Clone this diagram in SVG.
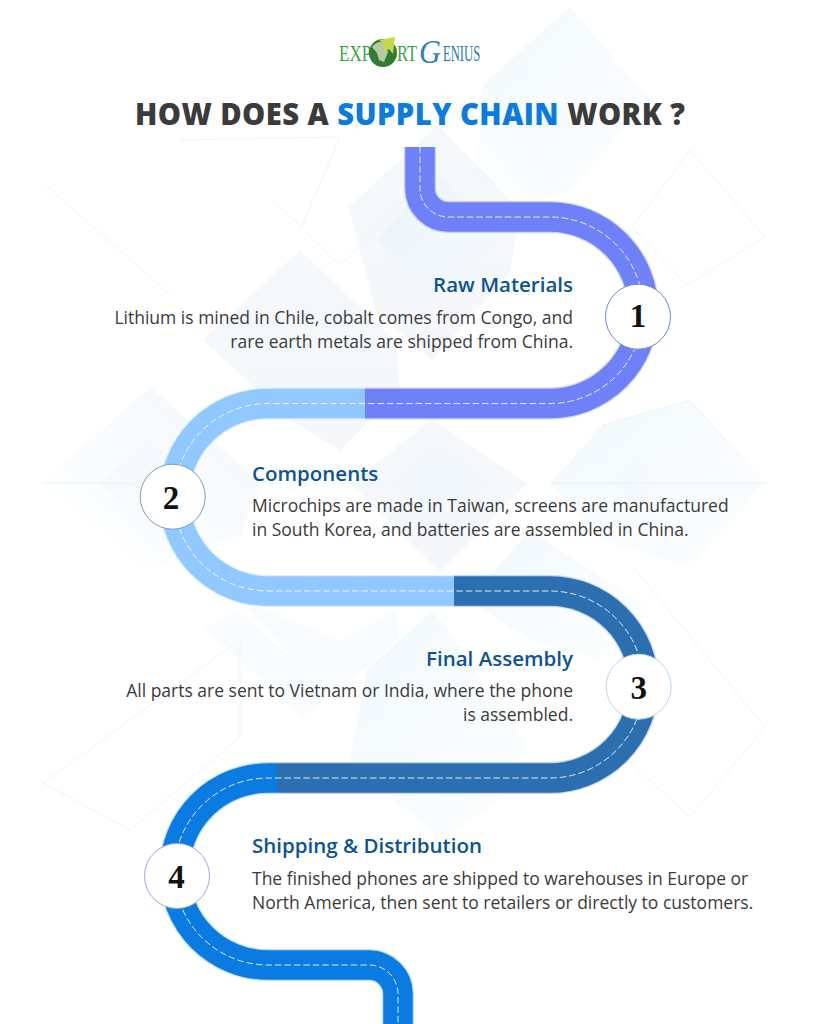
<svg xmlns="http://www.w3.org/2000/svg" width="819" height="1024" viewBox="0 0 819 1024">
<defs>
<linearGradient id="a" x1="0" y1="0" x2="0" y2="1"><stop offset="0" stop-color="#e6f1f8" stop-opacity=".45"/><stop offset="1" stop-color="#ebeef6" stop-opacity=".5"/></linearGradient>
<linearGradient id="b" x1="0" y1="0" x2="1" y2="1"><stop offset="0" stop-color="#e2f2fa" stop-opacity=".55"/><stop offset="1" stop-color="#f4fafd" stop-opacity=".25"/></linearGradient>
<linearGradient id="c" x1="1" y1="0" x2="0" y2="1"><stop offset="0" stop-color="#e5eff8" stop-opacity=".5"/><stop offset="1" stop-color="#f7fbfe" stop-opacity=".2"/></linearGradient>
</defs>
<style>
.a{fill:url(#a);stroke:none}
.p{fill:url(#b);stroke:none}
.q{fill:url(#c);stroke:none}
.i{fill:#eef5fb;fill-opacity:.35;stroke:none}
.o{fill:none;stroke:#e8f2f8;stroke-opacity:.8;stroke-width:1}
.edge{fill:none;stroke-width:32;stroke-opacity:.7}
.road{fill:none;stroke-width:29.500}
.dash{fill:none;stroke:#fff;stroke-opacity:.85;stroke-width:1;stroke-dasharray:6.500 3}
.num{fill:#fff;stroke-width:1}
.n{font-family:"Liberation Serif",serif;font-weight:700;font-size:33px;fill:#111;text-anchor:middle}
.h{font-family:"Open Sans",sans-serif;font-weight:600;font-size:20.5px;fill:#0b5394}
.b{font-family:"Open Sans",sans-serif;font-size:17.5px;fill:#3b3b3b}
.t{font-family:"Open Sans",sans-serif;font-weight:800;font-size:29.2px;fill:#3b3b3b}
.r{text-anchor:end}
.lg{font-family:"Liberation Serif",serif;font-size:23px}
</style>
<rect width="819" height="1024" fill="#fff"/>
<g id="background">
<polygon class="p" points="570,7 650,100 570,190 483,85"/>
<polygon class="q" points="483,85 476,170 520,210 570,190"/>
<polygon class="a" points="438,125 520,210 510,272 432,360 375,310 349,207"/>
<polygon class="p" points="438,175 500,235 432,300 375,240"/>
<polygon class="a" points="300,250 395,340 400,390 340,450 290,420 203,340"/>
<polygon class="q" points="150,387 260,483 240,535 150,570 43,483"/>
<polygon class="i" points="100,483 150,440 205,483 150,530"/>
<polygon class="a" points="432,420 527,483 440,573 350,483"/>
<polygon class="i" points="395,483 440,445 485,483 440,525"/>
<polygon class="p" points="550,483 603,425 690,400 766,483 690,567 603,540"/>
<polygon class="i" points="610,483 637,460 658,483 637,507"/>
<polygon class="p" points="470,600 530,530 650,610 600,660 530,640"/>
<polygon class="i" points="203,627 240,612 307,673 302,717"/>
<polygon class="i" points="240,600 340,640 397,610 397,640 340,690 302,717 307,673"/>
<polygon class="p" points="367,670 433,610 527,745 500,800 440,840 350,760"/>
<polyline class="o" points="632,227 690,150 765,237 687,285 632,227"/>
<polyline class="o" points="633,567 765,727 690,817 600,735"/>
<polyline class="o" points="43,183 173,297"/>
<polyline class="o" points="273,200 340,265 405,200"/>
<polyline class="o" points="180,140 340,137 300,230"/>
<polyline class="o" points="43,783 240,640 240,737 130,830 43,783"/>
<polyline class="o" points="603,425 690,400 725,440"/>
<polyline class="o" points="43,483 133,483 205,540"/>
<polyline class="o" points="550,483 766,483"/>
</g>
<g id="logo">
<text class="lg" transform="translate(339 61) scale(.74 1)" fill="#3aa648">EXP</text>
<circle cx="383" cy="53" r="14" fill="#2f7d32"/>
<path d="M372 47 Q378 40 384 43 L388 52 L384 62 L379 60 L377 53 Z" fill="#b9c9a8"/>
<polygon points="379,40 395,37 393,54 389,49 383,53 385,45" fill="#c6d84a"/>
<text class="lg" transform="translate(397 61) scale(.72 1)" fill="#3aa648">RT</text>
<text transform="translate(419 63) scale(.92 1)" font-family="Liberation Serif,serif" font-style="italic" font-size="33" fill="#2a7fbf">G</text>
<text class="lg" transform="translate(443 61) scale(.55 1)" fill="#2a7ab8">ENIUS</text>
</g>
<text id="title" class="t" x="135" y="125" textLength="550" lengthAdjust="spacing">HOW DOES A <tspan fill="#0a7be0">SUPPLY CHAIN</tspan> WORK ?</text>
<g id="connectors">
<g id="road-1">
<path class="edge" stroke="#b4c0ff" d="M420 147V188.500A28.500 28.500 0 0 0 448.500 217H550A93.200 93.200 0 0 1 550 403.500H365"/>
<path class="road" stroke="#6f81f8" d="M420 147V188.500A28.500 28.500 0 0 0 448.500 217H550A93.200 93.200 0 0 1 550 403.500H365"/>
</g>
<g id="road-2">
<path class="edge" stroke="#cfe7ff" d="M365 403.500H268A93.700 93.700 0 0 0 268 591H454"/>
<path class="road" stroke="#90c8ff" d="M365 403.500H268A93.700 93.700 0 0 0 268 591H454"/>
</g>
<g id="road-3">
<path class="edge" stroke="#a7c8e6" d="M454 591H550A93.500 93.500 0 0 1 550 778H277"/>
<path class="road" stroke="#2c6fb0" d="M454 591H550A93.500 93.500 0 0 1 550 778H277"/>
</g>
<g id="road-4">
<path class="edge" stroke="#a9d3fb" d="M277 778H268A93.500 93.500 0 0 0 268 965H369A29 29 0 0 1 398 994V1024"/>
<path class="road" stroke="#0a7be0" d="M277 778H268A93.500 93.500 0 0 0 268 965H369A29 29 0 0 1 398 994V1024"/>
</g>
<path class="dash" d="M420 147V188.500A28.500 28.500 0 0 0 448.500 217H550A93.200 93.200 0 0 1 550 403.500H268A93.700 93.700 0 0 0 268 591H550A93.500 93.500 0 0 1 550 778H268A93.500 93.500 0 0 0 268 965H369A29 29 0 0 1 398 994V1024"/>
</g>
<g id="node-1">
<circle class="num" cx="638" cy="316.700" r="32.500" stroke="#6f8ac8"/>
<text class="n" x="638" y="327">1</text>
<text class="h r" x="573" y="292">Raw Materials</text>
<text class="b r" x="573" y="323.500">Lithium is mined in Chile, cobalt comes from Congo, and</text>
<text class="b r" x="573" y="347.500">rare earth metals are shipped from China.</text>
</g>
<g id="node-2">
<circle class="num" cx="172.700" cy="496.700" r="32.500" stroke="#7f9cbc"/>
<text class="n" x="171" y="509">2</text>
<text class="h" x="252" y="481">Components</text>
<text class="b" x="252" y="512">Microchips are made in Taiwan, screens are manufactured</text>
<text class="b" x="252" y="536">in South Korea, and batteries are assembled in China.</text>
</g>
<g id="node-3">
<circle class="num" cx="638.700" cy="686.700" r="32.500" stroke="#bcd4ec"/>
<text class="n" x="638.700" y="699">3</text>
<text class="h r" x="573" y="666">Final Assembly</text>
<text class="b r" x="573" y="697">All parts are sent to Vietnam or India, where the phone</text>
<text class="b r" x="573" y="721">is assembled.</text>
</g>
<g id="node-4">
<circle class="num" cx="177" cy="876" r="32.500" stroke="#a9a6ea"/>
<text class="n" x="176.500" y="888">4</text>
<text class="h" x="252" y="853">Shipping &amp; Distribution</text>
<text class="b" x="252" y="884.500">The finished phones are shipped to warehouses in Europe or</text>
<text class="b" x="252" y="908.500">North America, then sent to retailers or directly to customers.</text>
</g>
</svg>
